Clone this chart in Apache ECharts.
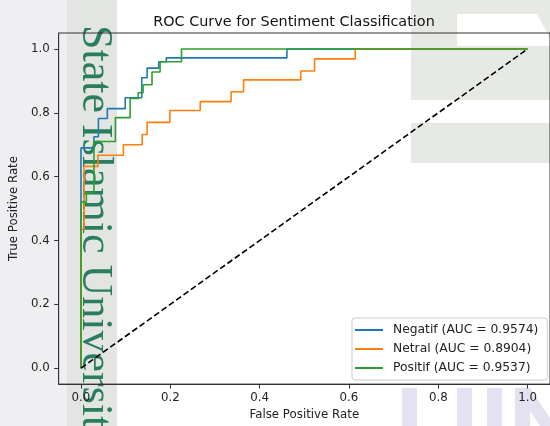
<!DOCTYPE html>
<html>
<head>
<meta charset="utf-8">
<script src="https://cdn.jsdelivr.net/npm/echarts@6/dist/echarts.min.js"></script>
<style>html,body{margin:0;padding:0;background:#fff}#c{width:550px;height:426px}</style>
</head>
<body>
<div id="c"></div>
<script>
// ---- data ----
const tickValues = [0, 0.2, 0.4, 0.6, 0.8, 1.0];
const seriesNames = ['Negatif (AUC = 0.9574)', 'Netral (AUC = 0.8904)', 'Positif (AUC = 0.9537)'];

const negFpr = [0, 0, 0.029, 0.029, 0.039, 0.039, 0.059, 0.059, 0.099, 0.099, 0.136, 0.136, 0.148, 0.148, 0.174, 0.174, 0.191, 0.191, 0.461, 0.461, 1];
const negTpr = [0, 0.69, 0.69, 0.725, 0.725, 0.782, 0.782, 0.813, 0.813, 0.847, 0.847, 0.91, 0.91, 0.94, 0.94, 0.96, 0.96, 0.972, 0.972, 1, 1];

const netFpr = [0, 0, 0.007, 0.007, 0.038, 0.038, 0.095, 0.095, 0.137, 0.137, 0.148, 0.148, 0.199, 0.199, 0.267, 0.267, 0.336, 0.336, 0.364, 0.364, 0.492, 0.492, 0.523, 0.523, 0.614, 0.614, 1];
const netTpr = [0, 0.435, 0.435, 0.632, 0.632, 0.667, 0.667, 0.70, 0.70, 0.732, 0.732, 0.77, 0.77, 0.807, 0.807, 0.835, 0.835, 0.866, 0.866, 0.903, 0.903, 0.931, 0.931, 0.969, 0.969, 1, 1];

const posFpr = [0, 0, 0.012, 0.012, 0.029, 0.029, 0.077, 0.077, 0.11, 0.11, 0.128, 0.128, 0.139, 0.139, 0.159, 0.159, 0.177, 0.177, 0.225, 0.225, 1];
const posTpr = [0, 0.52, 0.52, 0.55, 0.55, 0.71, 0.71, 0.785, 0.785, 0.845, 0.845, 0.863, 0.863, 0.888, 0.888, 0.928, 0.928, 0.96, 0.96, 1, 1];

const chanceFpr = [0, 1];
const chanceTpr = [0, 1];

const colors = ['#1f77b4', '#ff7f0e', '#2ca02c'];
const zip = (a, b) => a.map((v, i) => [v, b[i]]);

const FONT = '"DejaVu Sans", sans-serif';
const chart = echarts.init(document.getElementById('c'), null, {renderer: 'canvas'});

const bg = [
  {type: 'rect', shape: {x: 0, y: 0, width: 67, height: 426}, style: {fill: '#efeff2'}},
  {type: 'rect', shape: {x: 67, y: 0, width: 50, height: 426}, style: {fill: '#e3e5e3'}},
  {type: 'rect', shape: {x: 411, y: 0, width: 139, height: 100}, style: {fill: '#e7e9e5'}},
  {type: 'polygon', shape: {points: [[457, 14], [537, 14], [550, 38], [550, 46], [457, 46]]}, style: {fill: '#ffffff'}},
  {type: 'rect', shape: {x: 411, y: 123, width: 139, height: 40}, style: {fill: '#e7e9e5'}},
  {type: 'rect', shape: {x: 402, y: 388, width: 15, height: 38}, style: {fill: '#e4e2f0'}},
  {type: 'rect', shape: {x: 457, y: 388, width: 15, height: 38}, style: {fill: '#e4e2f0'}},
  {type: 'rect', shape: {x: 487, y: 388, width: 15, height: 38}, style: {fill: '#e4e2f0'}},
  {type: 'rect', shape: {x: 515, y: 388, width: 15, height: 38}, style: {fill: '#e4e2f0'}},
  {type: 'polygon', shape: {points: [[515, 388], [530, 388], [550, 418], [550, 426], [540, 426]]}, style: {fill: '#e4e2f0'}},
  {type: 'text', x: 73, y: 25, rotation: -Math.PI / 2,
   style: {text: 'State Islamic University', font: '44px "Liberation Serif", "DejaVu Serif", serif', fill: '#2b7d5f', textAlign: 'left', textVerticalAlign: 'bottom'}}
].map(g => Object.assign({z: -10, silent: true}, g));

const lineSeries = [
  {name: seriesNames[0], data: zip(negFpr, negTpr), color: colors[0]},
  {name: seriesNames[1], data: zip(netFpr, netTpr), color: colors[1]},
  {name: seriesNames[2], data: zip(posFpr, posTpr), color: colors[2]}
].map(s => ({
  type: 'line', name: s.name, data: s.data, showSymbol: false, symbol: 'none',
  itemStyle: {color: s.color}, lineStyle: {color: s.color, width: 1.6}, animation: false, z: 3
}));

lineSeries.push({
  type: 'line', name: 'chance', data: zip(chanceFpr, chanceTpr), symbol: 'none',
  lineStyle: {color: '#000', width: 1.6, type: [6, 3]}, animation: false, z: 4
});

const axisCommon = {
  type: 'value', min: -0.05, max: 1.05,
  axisLine: {show: true, onZero: false, lineStyle: {color: '#333', width: 1}},
  axisTick: {show: true, length: 4.5, lineStyle: {color: '#333'}, customValues: tickValues},
  axisLabel: {customValues: tickValues, formatter: v => v.toFixed(1), color: '#222', fontFamily: FONT, fontSize: 11.8},
  splitLine: {show: false},
  nameLocation: 'middle',
  nameTextStyle: {color: '#222', fontFamily: FONT, fontSize: 11.8}
};

chart.setOption({
  backgroundColor: '#ffffff',
  animation: false,
  graphic: bg,
  title: {
    text: 'ROC Curve for Sentiment Classification', left: 289, top: 10, textAlign: 'center',
    textStyle: {fontFamily: FONT, fontSize: 14.4, fontWeight: 'normal', color: '#111'}
  },
  grid: {left: 57, top: 33, width: 499, height: 353, show: true, borderColor: '#333', borderWidth: 1, backgroundColor: 'transparent'},
  xAxis: Object.assign({}, axisCommon, {name: 'False Positive Rate', nameGap: 22,
    axisLabel: Object.assign({}, axisCommon.axisLabel, {margin: 8})}),
  yAxis: Object.assign({}, axisCommon, {name: 'True Positive Rate', nameGap: 35,
    axisLabel: Object.assign({}, axisCommon.axisLabel, {margin: 9})}),
  legend: {
    data: seriesNames, orient: 'vertical', left: 352, top: 318,
    icon: 'rect', itemWidth: 28, itemHeight: 2, itemGap: 5,
    padding: [5, 9, 5, 3],
    backgroundColor: 'rgba(255,255,255,0.85)', borderColor: '#cccccc', borderWidth: 1, borderRadius: 3,
    textStyle: {fontFamily: FONT, fontSize: 12.3, color: '#222', lineHeight: 14, padding: [0, 0, 0, 5]}
  },
  series: lineSeries
});
</script>
</body>
</html>
